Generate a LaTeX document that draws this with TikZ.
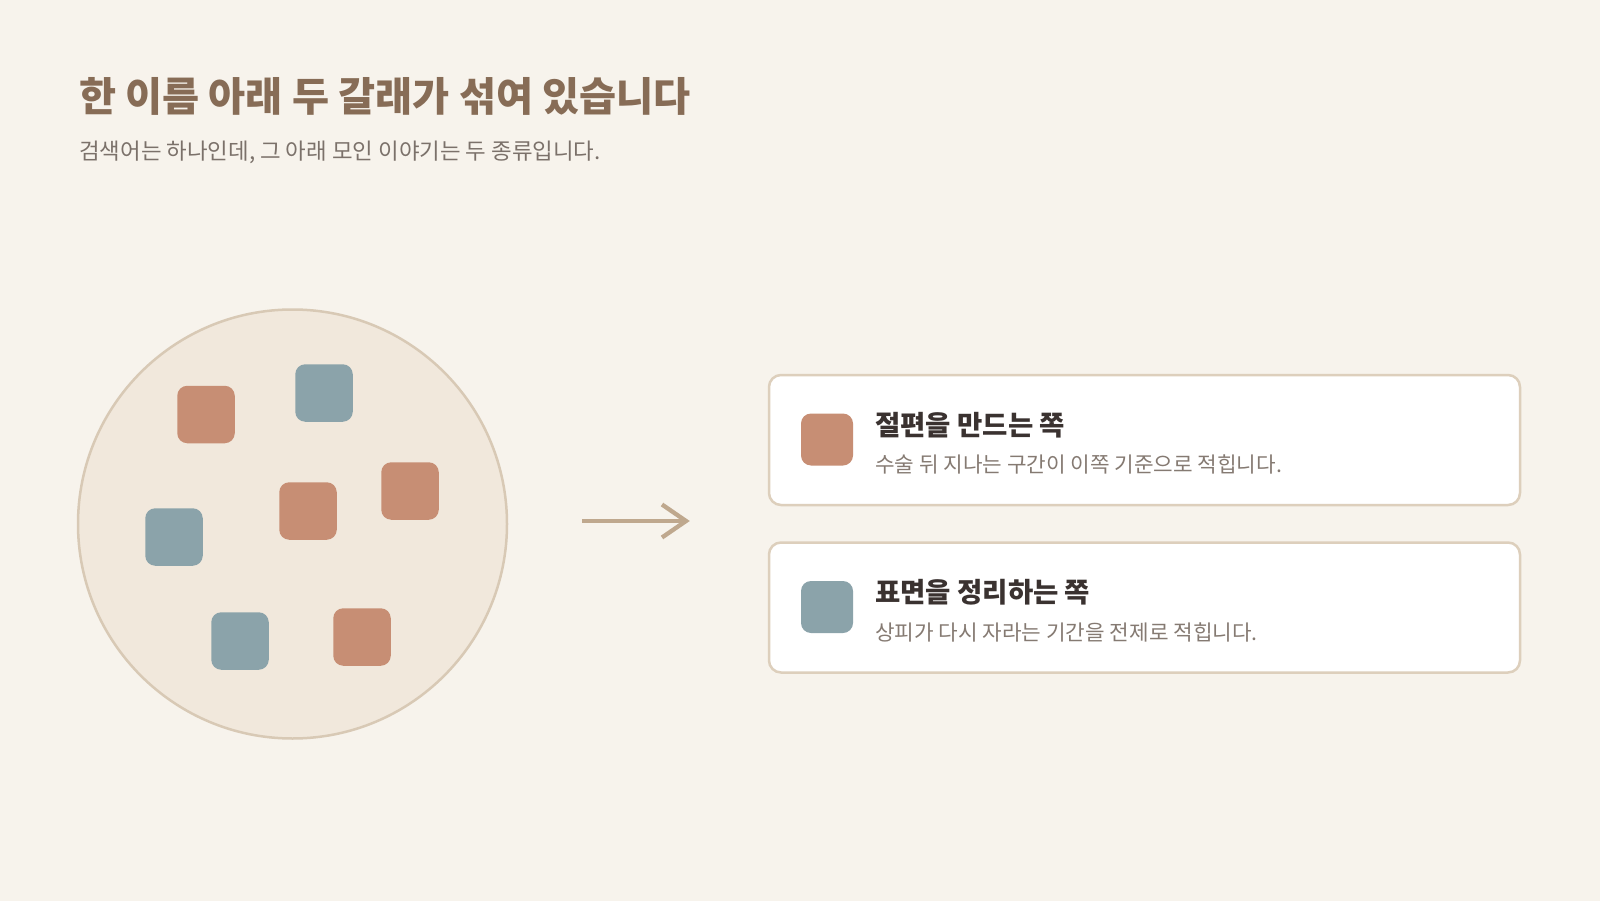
\documentclass[tikz,border=0pt]{standalone}
\usepackage{fontspec}
\setmainfont{Noto Sans CJK KR}
\definecolor{bg}{HTML}{F7F3EC}
\definecolor{circfill}{HTML}{F1E8DC}
\definecolor{circline}{HTML}{D8C9B5}
\definecolor{cardline}{HTML}{DDCFBC}
\definecolor{arrowc}{HTML}{BFA88E}
\definecolor{orangec}{HTML}{C78E74}
\definecolor{bluec}{HTML}{8BA3AA}
\definecolor{titlec}{HTML}{876C56}
\definecolor{subc}{HTML}{7B716A}
\definecolor{headc}{HTML}{3A3230}
\definecolor{descc}{HTML}{857A72}
\begin{document}
\begin{tikzpicture}[x=1pt,y=-1pt,
  chip/.style={minimum width=57.5pt,minimum height=57.5pt,rounded corners=10pt,inner sep=0pt},
  ochip/.style={chip,fill=orangec},
  bchip/.style={chip,fill=bluec},
  icon/.style={minimum width=52pt,minimum height=52pt,rounded corners=10pt,inner sep=0pt},
  card/.style={draw=cardline,line width=2.5pt,fill=white,rounded corners=12pt,minimum width=751pt,minimum height=130pt,inner sep=0pt},
  txt/.style={anchor=base west,inner sep=0pt},
  headtxt/.style={txt,text=headc,font=\bfseries\fontsize{27.5}{32}\selectfont},
  desctxt/.style={txt,text=descc,font=\fontsize{21.3}{25}\selectfont}
]
\useasboundingbox (0,0) rectangle (1600,901);
\fill[bg] (0,0) rectangle (1600,901);

% title
\node[txt,text=titlec,font=\bfseries\fontsize{40.3}{46}\selectfont] (title) at (79,111.5) {한 이름 아래 두 갈래가 섞여 있습니다};
\node[txt,text=subc,font=\fontsize{22.4}{26}\selectfont] (sub) at (79,160) {검색어는 하나인데, 그 아래 모인 이야기는 두 종류입니다.};

% circle
\node[circle,draw=circline,fill=circfill,line width=2.5pt,minimum size=429pt,inner sep=0pt] (pool) at (292.5,524) {};
\node[ochip] (o1) at (206,414.5) {};
\node[bchip] (b1) at (324,393) {};
\node[ochip] (o2) at (410,491) {};
\node[ochip] (o3) at (308,511) {};
\node[bchip] (b2) at (174,537) {};
\node[bchip] (b3) at (240,641) {};
\node[ochip] (o4) at (362,637) {};

% arrow
\coordinate (as) at (582,521);
\coordinate (ae) at (686,521);
\draw[arrowc,line width=4.3pt] (as) -- (ae);
\draw[arrowc,line width=4.3pt,line join=miter] (662,504.5) -- (ae) -- (662,537.5);

% cards
\node[card] (c1) at (1144.5,440) {};
\node[card] (c2) at (1144.5,607.5) {};
\node[icon,fill=orangec] (i1) at (827,439.5) {};
\node[icon,fill=bluec] (i2) at (827,607) {};

\node[headtxt] (h1) at (875,435) {절편을 만드는 쪽};
\node[desctxt] (d1) at (875,472.5) {수술 뒤 지나는 구간이 이쪽 기준으로 적힙니다.};
\node[headtxt] (h2) at (875,602) {표면을 정리하는 쪽};
\node[desctxt] (d2) at (875,640) {상피가 다시 자라는 기간을 전제로 적힙니다.};
\end{tikzpicture}
\end{document}
